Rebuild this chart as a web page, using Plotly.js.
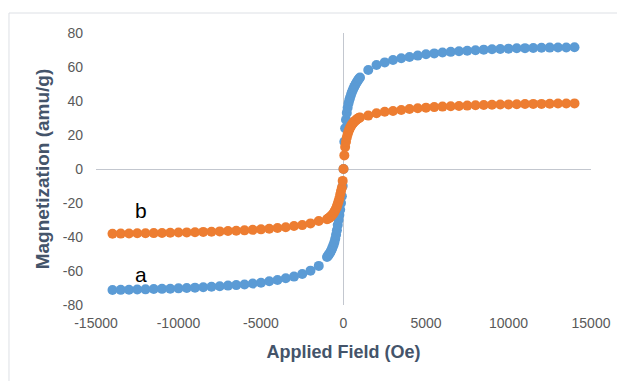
<!DOCTYPE html>
<html>
<head>
<meta charset="utf-8">
<script src="https://cdn.plot.ly/plotly-3.0.1.min.js"></script>
<style>
  html, body { margin: 0; padding: 0; background: #ffffff; }
  #chart { width: 617px; height: 381px; }
</style>
</head>
<body>
<div id="chart"></div>
<script>
// Applied field (Oe), shared by both samples
const fieldOe = [
  -14000,-13500,-13000,-12500,-12000,-11500,-11000,-10500,-10000,-9500,-9000,-8500,-8000,-7500,-7000,-6500,-6000,-5500,-5000,-4500,-4000,-3500,-3000,-2500,-2000,-1500,
  -1000,-950,-900,-850,-800,-750,-700,-650,-600,-550,-500,-450,-400,-350,-300,-250,-200,-150,-100,-50,0,50,100,150,200,250,300,350,400,450,500,550,600,650,700,750,800,850,900,950,1000,
  1500,2000,2500,3000,3500,4000,4500,5000,5500,6000,6500,7000,7500,8000,8500,9000,9500,10000,10500,11000,11500,12000,12500,13000,13500,14000
];

// Sample a (blue) magnetization, amu/g
const magA = [
  -71.2,-71.1,-71.0,-70.9,-70.8,-70.6,-70.5,-70.4,-70.2,-70.0,-69.8,-69.6,-69.3,-69.0,-68.6,-68.3,-67.9,-67.4,-66.9,-66.0,-65.3,-64.3,-63.3,-61.8,-59.8,-57.0,
  -51.8,-51.2,-50.5,-49.8,-49.0,-48.0,-47.0,-45.8,-44.5,-43.0,-41.0,-38.7,-36.0,-33.0,-30.0,-27.0,-24.0,-20.0,-16.0,-10.0,0,16,24,29,33,36,38.5,40.5,42,43.5,45,46.2,47.3,48.3,49.3,50.2,51,51.8,52.5,53.2,53.8,
  58.2,61.2,62.7,64.1,65.1,65.9,66.7,67.5,68.0,68.5,68.9,69.3,69.6,69.9,70.2,70.4,70.6,70.8,71.0,71.1,71.2,71.3,71.4,71.5,71.5,71.6
];

// Sample b (orange) magnetization, amu/g
const magB = [
  -38.1,-38.0,-37.9,-37.8,-37.8,-37.7,-37.6,-37.5,-37.4,-37.3,-37.2,-37.0,-36.9,-36.7,-36.5,-36.3,-36.1,-35.8,-35.5,-35.1,-34.7,-34.3,-33.5,-33.0,-32.0,-30.6,
  -29.6,-29.3,-29.0,-28.6,-28.2,-27.7,-27.2,-26.6,-26.0,-25.2,-24.3,-23.2,-22.0,-20.6,-19.0,-17.2,-15.0,-13.0,-11.0,-7.0,0,8,13,16,18.5,20.5,22,23.3,24.3,25.2,26,26.7,27.3,27.8,28.3,28.7,29.1,29.5,29.8,30.1,30.3,
  31.4,32.8,33.7,34.1,34.7,35.3,35.7,36.1,36.4,36.7,36.9,37.1,37.3,37.5,37.6,37.8,37.9,38.0,38.1,38.2,38.3,38.3,38.4,38.5,38.5,38.6
];

const seriesNames = ["a", "b"];
const xTickVals = [-15000,-10000,-5000,0,5000,10000,15000];
const yTickVals = [-80,-60,-40,-20,0,20,40,60,80];
const labelPos = [
  {text: "a", x: -12300, y: -62.0},
  {text: "b", x: -12250, y: -24.5}
];

const tickFont = {family: "Liberation Sans, Arial, sans-serif", size: 14, color: "#595959"};
const titleFont = {family: "Liberation Sans, Arial, sans-serif", size: 18, color: "#44546A", weight: "bold"};
const yTitleFont = {family: "Liberation Sans, Arial, sans-serif", size: 19, color: "#44546A", weight: "bold"};

const traces = [
  {x: fieldOe, y: magA, name: seriesNames[0], mode: "markers", type: "scatter",
   marker: {color: "#5B9BD5", size: 10}},
  {x: fieldOe, y: magB, name: seriesNames[1], mode: "markers", type: "scatter",
   marker: {color: "#ED7D31", size: 10}}
];

const layout = {
  width: 617, height: 381,
  margin: {l: 96, r: 26, t: 33, b: 76},
  paper_bgcolor: "#ffffff", plot_bgcolor: "#ffffff",
  showlegend: false,
  xaxis: {
    range: [-15000, 15000], tickvals: xTickVals, ticktext: xTickVals.map(String),
    showgrid: false, showline: false, zeroline: true, zerolinecolor: "#C3C7CF", zerolinewidth: 1,
    ticks: "", tickfont: tickFont, ticklabelstandoff: 8,
    title: {text: "<b>Applied Field (Oe)</b>", font: titleFont, standoff: 15}
  },
  yaxis: {
    range: [-80, 80], tickvals: yTickVals, ticktext: yTickVals.map(String),
    showgrid: false, showline: false, zeroline: true, zerolinecolor: "#C3C7CF", zerolinewidth: 1,
    ticks: "", tickfont: tickFont, ticklabelstandoff: 12,
    title: {text: "<b>Magnetization (amu/g)</b>", font: yTitleFont, standoff: 8}
  },
  annotations: labelPos.map(p => ({
    text: p.text, x: p.x, y: p.y, xref: "x", yref: "y", showarrow: false,
    font: {family: "Liberation Sans, Arial, sans-serif", size: 21, color: "#000000"}
  })),
  shapes: [{
    type: "rect", xref: "paper", yref: "paper", layer: "below",
    x0: -0.1758, x1: 1.3, y0: -0.4, y1: 1.0735,
    line: {color: "#DDE0E5", width: 1}, fillcolor: "rgba(0,0,0,0)"
  }]
};

Plotly.newPlot("chart", traces, layout, {displayModeBar: false, staticPlot: true});
</script>
</body>
</html>
